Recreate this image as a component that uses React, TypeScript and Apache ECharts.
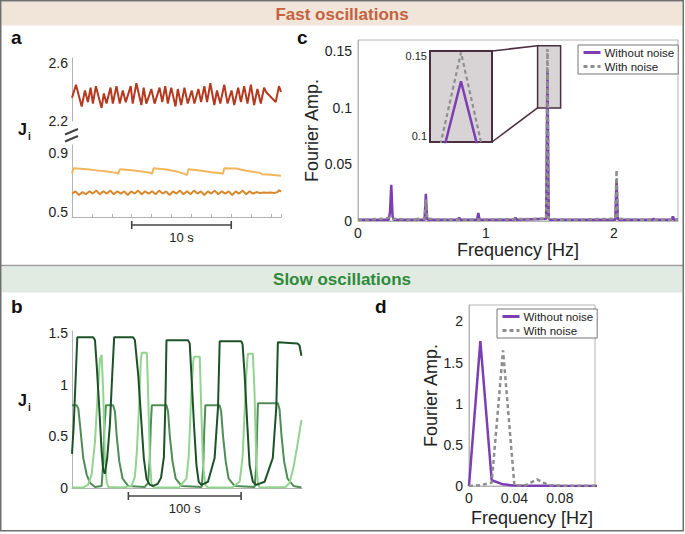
import React, { useEffect, useRef } from "react";
import * as echarts from "echarts";

const FONT = "'Liberation Sans', Arial, Helvetica, sans-serif";

// ---------- Panel a : fast oscillations, J_i traces (time in s) ----------
const aUpperTicks = [2.2, 2.6];
const aLowerTicks = [0.5, 0.9];
const aScaleBar = [6, 16]; // 10 s
const redTrace = [
  [0, 2.36], [0.4, 2.45], [0.97, 2.3], [1.3, 2.41], [1.6, 2.33], [1.87, 2.43], [2.1, 2.32], [2.4, 2.44],
  [2.97, 2.29], [3.2, 2.39], [3.47, 2.32], [3.87, 2.43], [4.1, 2.32], [4.47, 2.44], [4.8, 2.32], [5.1, 2.41],
  [5.4, 2.33], [5.9, 2.44], [6.1, 2.32], [6.47, 2.46], [6.97, 2.31], [7.2, 2.43], [7.47, 2.32], [7.97, 2.42],
  [8.3, 2.32], [8.8, 2.43], [9.07, 2.33], [9.37, 2.44], [9.63, 2.32], [9.97, 2.43], [10.4, 2.3], [10.63, 2.42],
  [10.97, 2.31], [11.3, 2.43], [11.63, 2.32], [12.03, 2.41], [12.3, 2.32], [12.7, 2.42], [12.97, 2.33], [13.3, 2.44],
  [13.57, 2.33], [13.9, 2.46], [14.3, 2.31], [14.57, 2.41], [14.9, 2.32], [15.3, 2.45], [15.63, 2.32], [16.03, 2.41],
  [16.3, 2.31], [16.7, 2.43], [16.97, 2.33], [17.3, 2.44], [17.63, 2.32], [17.97, 2.45], [18.3, 2.31], [18.63, 2.42],
  [18.97, 2.32], [19.3, 2.43], [19.5, 2.4], [20.47, 2.33], [20.8, 2.44], [21.0, 2.4],
];
const yellowTrace = [
  [0, 0.76], [0.15, 0.797], [1.5, 0.79], [2.5, 0.782], [3.5, 0.775], [4.5, 0.765], [4.65, 0.758], [4.8, 0.79],
  [6, 0.783], [7, 0.775], [7.9, 0.765], [8.05, 0.758], [8.2, 0.797], [9.5, 0.788], [10.5, 0.775], [11.3, 0.758],
  [11.55, 0.75], [11.7, 0.79], [13, 0.78], [14, 0.77], [15, 0.762], [15.15, 0.758], [15.3, 0.797], [16.5, 0.795],
  [17.5, 0.78], [18.9, 0.765], [19.1, 0.756], [20, 0.752], [21, 0.746],
];
const orangeTrace = [
  [0, 0.625], [0.35, 0.64], [0.7, 0.615], [1.05, 0.635], [1.4, 0.62], [1.75, 0.64], [2.1, 0.625], [2.45, 0.645],
  [2.8, 0.62], [3.15, 0.64], [3.5, 0.625], [3.85, 0.645], [4.2, 0.62], [4.55, 0.64], [4.9, 0.625], [5.25, 0.64],
  [5.6, 0.615], [5.95, 0.64], [6.3, 0.625], [6.65, 0.645], [7.0, 0.62], [7.35, 0.64], [7.7, 0.625], [8.05, 0.64],
  [8.4, 0.62], [8.75, 0.645], [9.1, 0.625], [9.45, 0.64], [9.8, 0.615], [10.15, 0.64], [10.5, 0.625], [10.85, 0.645],
  [11.2, 0.62], [11.55, 0.64], [11.9, 0.62], [12.25, 0.645], [12.6, 0.625], [12.95, 0.64], [13.3, 0.615], [13.65, 0.64],
  [14.0, 0.625], [14.35, 0.645], [14.7, 0.62], [15.05, 0.64], [15.4, 0.625], [15.75, 0.64], [16.1, 0.615], [16.45, 0.64],
  [16.8, 0.625], [17.15, 0.645], [17.5, 0.62], [17.85, 0.64], [18.2, 0.625], [18.55, 0.635], [18.9, 0.628], [19.25, 0.632],
  [19.6, 0.63], [19.95, 0.632], [20.3, 0.628], [20.65, 0.635], [20.8, 0.648], [21.0, 0.638],
];

// ---------- Panel c : Fourier spectrum of fast oscillations ----------
const cFreqTicks = [0, 1, 2];
const cAmpTicks = [0, 0.05, 0.1, 0.15];
const cInsetTicks = [0.1, 0.15];
const cZoomBox = [[1.403, 0.1], [1.583, 0.155]];
const cWithoutNoise = [
  [0, 0.001], [0.1, 0.001], [0.24, 0.001], [0.25, 0.008], [0.26, 0.032], [0.27, 0.004], [0.28, 0.001],
  [0.52, 0.001], [0.53, 0.024], [0.54, 0.002], [0.55, 0.001], [0.78, 0.001], [0.79, 0.003], [0.8, 0.001],
  [0.93, 0.001], [0.94, 0.007], [0.95, 0.001], [1.22, 0.001], [1.23, 0.003], [1.24, 0.001], [1.47, 0.002],
  [1.48, 0.134], [1.49, 0.002], [1.5, 0.001], [2.01, 0.001], [2.02, 0.036], [2.03, 0.002], [2.04, 0.001],
  [2.3, 0.001], [2.31, 0.002], [2.32, 0.001], [2.45, 0.001], [2.46, 0.004], [2.47, 0.001], [2.5, 0.001],
];
const cWithNoise = [
  [0, 0.001], [0.2, 0.002], [0.25, 0.003], [0.26, 0.002], [0.45, 0.001], [0.46, 0.004], [0.47, 0.001],
  [0.52, 0.002], [0.53, 0.019], [0.54, 0.002], [0.7, 0.001], [0.71, 0.002], [0.72, 0.001], [1.47, 0.002],
  [1.48, 0.152], [1.49, 0.002], [1.6, 0.001], [2.01, 0.002], [2.02, 0.045], [2.03, 0.002], [2.2, 0.001], [2.5, 0.001],
];

// ---------- Panel b : slow oscillations, J_i traces (time in s) ----------
const bTicks = [0, 0.5, 1, 1.5];
const bScaleBar = [50, 150]; // 100 s
const darkGreen = [
  [0, 0.33], [1.5, 0.6], [3, 1.0], [4.7, 1.46], [18.8, 1.46], [20.4, 1.43], [21.9, 1.19], [24.2, 0.77],
  [26.3, 0.35], [27.7, 0.17], [29.2, 0.14], [31.2, 0.29], [33.6, 0.61], [35.7, 1.1], [37.4, 1.46],
  [54.2, 1.46], [55.8, 1.43], [58.7, 1.1], [61.7, 0.61], [63.7, 0.29], [66.1, 0.09], [69.0, 0.03],
  [72, 0.02], [76, 0.04], [79, 0.1], [81.5, 0.3], [82.8, 0.8], [83.8, 1.43], [102.9, 1.43], [104.4, 1.4],
  [105.9, 1.1], [108.2, 0.61], [110.4, 0.22], [112.4, 0.06], [114.8, 0.03], [120.6, 0.06], [126.5, 0.29],
  [129.5, 0.78], [131.0, 1.42], [150.2, 1.42], [151.3, 1.39], [153.1, 1.1], [155.5, 0.61], [157.5, 0.22],
  [160.4, 0.06], [163.5, 0.03], [170.8, 0.06], [178.1, 0.29], [181.2, 0.78], [182.6, 1.41], [200, 1.4],
  [201.8, 1.38], [203.5, 1.28],
];
const midGreen = [
  [0, 0.8], [4.2, 0.8], [5.6, 0.77], [7.1, 0.61], [10, 0.29], [13, 0.13], [15.9, 0.05], [20.4, 0.01],
  [26.3, 0.02], [27.7, 0.25], [28.8, 0.6], [30.1, 0.8], [36.5, 0.8], [38.1, 0.74], [39.6, 0.51], [41.9, 0.26],
  [44.9, 0.09], [49.8, 0.02], [64.6, 0.01], [67.5, 0.05], [69.0, 0.29], [69.9, 0.61], [70.8, 0.8], [83.8, 0.8],
  [85.2, 0.74], [86.7, 0.51], [89.1, 0.26], [92, 0.09], [97.1, 0.02], [115, 0.01], [116.4, 0.2], [117.3, 0.55],
  [118.3, 0.8], [131, 0.8], [132.3, 0.74], [133.9, 0.51], [136.3, 0.26], [138.9, 0.09], [144.2, 0.02],
  [162, 0.01], [163.3, 0.2], [164.2, 0.55], [164.9, 0.82], [182.6, 0.82], [184.1, 0.76], [185.8, 0.51],
  [188.1, 0.26], [191.2, 0.09], [196.5, 0.02], [203.5, 0.005],
];
const lightGreen = [
  [0, 0.005], [10, 0.005], [14.2, 0.03], [17.4, 0.13], [20.4, 0.45], [23, 0.95], [24.8, 1.25], [26.3, 1.29],
  [27.7, 0.93], [29.2, 0.29], [30.7, 0.06], [32.1, 0.01], [45, 0.005], [52.8, 0.02], [55.8, 0.11], [57.5, 0.35],
  [59.3, 0.75], [61.1, 1.25], [62, 1.31], [66.4, 1.31], [67.5, 0.93], [69, 0.29], [70.5, 0.04], [72.6, 0.005],
  [95, 0.005], [101.5, 0.09], [103.5, 0.3], [105.9, 0.93], [107.5, 1.22], [108.2, 1.27], [113.3, 1.27],
  [114.2, 0.93], [116.2, 0.22], [118.3, 0.03], [120.4, 0.005], [142, 0.005], [148.7, 0.06], [151.3, 0.3],
  [154.6, 1.1], [156, 1.3], [160.4, 1.3], [161.9, 0.93], [163.5, 0.22], [165, 0.04], [166.4, 0.005],
  [189.4, 0.01], [193, 0.05], [196.5, 0.2], [200, 0.42], [203.5, 0.66],
];

// ---------- Panel d : Fourier spectrum of slow oscillations ----------
const dFreqTicks = [0, 0.04, 0.08];
const dAmpTicks = [0, 0.5, 1, 1.5, 2];
const dWithoutNoise = [
  [0, 0], [0.01, 1.76], [0.02, 0.07], [0.03, 0.02], [0.04, 0.005], [0.05, 0.003], [0.06, 0.002],
  [0.07, 0.002], [0.08, 0.001], [0.09, 0.001], [0.1, 0.001], [0.11, 0.001], [0.12, 0.001],
];
const dWithNoise = [
  [0, 0], [0.01, 0.01], [0.02, 0.04], [0.03, 1.65], [0.04, 0.01], [0.05, 0.01], [0.06, 0.08],
  [0.07, 0.01], [0.08, 0.005], [0.09, 0.003], [0.1, 0.002], [0.11, 0.002], [0.12, 0.002],
];

const PURPLE = "#7b3fb3";
const GRAY = "#8e8e8e";
const AXIS = "#b4b4b4";
const TXT = "#222";

const axLine = { show: true, lineStyle: { color: AXIS, width: 1 } };
const noSplit = { show: false };
const lbl = (values: number[], size = 14, margin = 5) => ({
  customValues: values,
  fontSize: size,
  color: TXT,
  fontFamily: FONT,
  margin,
});
const nameStyle = { fontSize: 18, color: TXT, fontFamily: FONT };

const lineS = (name: string, xi: number, data: number[][], color: string, width: number, dashed = false, extra: any = {}) => ({
  type: "line",
  name,
  xAxisIndex: xi,
  yAxisIndex: xi,
  data,
  symbol: "none",
  showSymbol: false,
  color,
  lineStyle: { color, width, type: dashed ? [4, 3] : "solid" },
  ...extra,
});

export default function App() {
  const ref = useRef<HTMLDivElement>(null);
  useEffect(() => {
    if (!ref.current) return;
    const chart = echarts.init(ref.current, null, { renderer: "svg" });
    const legendCommon = {
      data: ["Without noise", "With noise"],
      orient: "vertical",
      itemWidth: 17,
      itemHeight: 8,
      itemGap: 1,
      padding: [1, 4, 1, 4],
      borderColor: "#777",
      borderWidth: 1,
      backgroundColor: "#fff",
      selectedMode: false,
      itemStyle: { opacity: 0, borderWidth: 0 },
      lineStyle: { width: 3 },
      textStyle: { fontSize: 11.5, color: TXT, fontFamily: FONT, lineHeight: 13, padding: [0, 0, 0, -1] },
    };
    const option: any = {
      animation: false,
      grid: [
        { left: 72, top: 58, width: 209, height: 63 },
        { left: 72, top: 145, width: 209, height: 72 },
        { left: 358, top: 40, width: 320, height: 181, show: true, borderColor: AXIS, borderWidth: 1 },
        { left: 430, top: 51, width: 62, height: 91, show: true, backgroundColor: "#d8d4d6", borderColor: "#4b2e40", borderWidth: 2 },
        { left: 72, top: 331, width: 230, height: 157 },
        { left: 469, top: 305, width: 126, height: 181, show: true, borderColor: AXIS, borderWidth: 1 },
      ],
      xAxis: [
        { gridIndex: 0, type: "value", min: 0, max: 21, show: false },
        {
          gridIndex: 1, type: "value", min: 0, max: 21, interval: 2, axisLine: axLine,
          axisTick: { show: true, inside: true, length: 3, lineStyle: { color: AXIS } },
          axisLabel: { show: false }, splitLine: noSplit,
        },
        {
          gridIndex: 2, type: "value", min: 0, max: 2.5, axisLine: axLine, axisTick: { show: false },
          axisLabel: lbl(cFreqTicks, 14, 5), splitLine: noSplit,
          name: "Frequency [Hz]", nameLocation: "middle", nameGap: 17, nameTextStyle: nameStyle,
        },
        { gridIndex: 3, type: "value", min: 1.4742, max: 1.4858, show: false },
        {
          gridIndex: 4, type: "value", min: 0, max: 204, axisLine: axLine, axisTick: { show: false },
          axisLabel: { show: false }, splitLine: noSplit,
        },
        {
          gridIndex: 5, type: "value", min: 0, max: 0.111, axisLine: axLine, axisTick: { show: false },
          axisLabel: lbl(dFreqTicks, 14, 5), splitLine: noSplit,
          name: "Frequency [Hz]", nameLocation: "middle", nameGap: 23, nameTextStyle: nameStyle,
        },
      ],
      yAxis: [
        { gridIndex: 0, type: "value", min: 2.2, max: 2.634, axisLine: axLine, axisTick: { show: false }, axisLabel: lbl(aUpperTicks, 14, 4), splitLine: noSplit },
        { gridIndex: 1, type: "value", min: 0.466, max: 0.954, axisLine: axLine, axisTick: { show: false }, axisLabel: lbl(aLowerTicks, 14, 4), splitLine: noSplit },
        {
          gridIndex: 2, type: "value", min: 0, max: 0.16, axisLine: axLine, axisTick: { show: false },
          axisLabel: lbl(cAmpTicks, 14, 6), splitLine: noSplit,
          name: "Fourier Amp.", nameLocation: "middle", nameGap: 36, nameTextStyle: nameStyle,
        },
        { gridIndex: 3, type: "value", min: 0.096, max: 0.1529, axisLine: { show: false }, axisTick: { show: false }, axisLabel: lbl(cInsetTicks, 11, 3), splitLine: noSplit },
        { gridIndex: 4, type: "value", min: 0, max: 1.52, axisLine: axLine, axisTick: { show: false }, axisLabel: lbl(bTicks, 14, 4), splitLine: noSplit },
        {
          gridIndex: 5, type: "value", min: 0, max: 2.2, axisLine: axLine, axisTick: { show: false },
          axisLabel: lbl(dAmpTicks, 14, 6), splitLine: noSplit,
          name: "Fourier Amp.", nameLocation: "middle", nameGap: 27, nameTextStyle: nameStyle,
        },
      ],
      legend: [
        { ...legendCommon, left: 578, top: 45 },
        { ...legendCommon, left: 497, top: 309 },
      ],
      series: [
        lineS("J1 fast", 0, redTrace, "#b5391f", 2),
        lineS("J2 fast", 1, yellowTrace, "#f1b65c", 2),
        lineS("J3 fast", 1, orangeTrace, "#d8892c", 2),
        lineS("Without noise", 2, cWithoutNoise, PURPLE, 2.5, false, {
          markArea: {
            silent: true,
            itemStyle: { color: "#d8d4d6", borderColor: "#4b2e40", borderWidth: 1.5 },
            data: [[{ coord: cZoomBox[0] }, { coord: cZoomBox[1] }]],
          },
        }),
        lineS("With noise", 2, cWithNoise, GRAY, 2.5, true),
        lineS("Without noise", 3, cWithoutNoise, PURPLE, 2.5),
        lineS("With noise", 3, cWithNoise, GRAY, 2.2, true),
        lineS("J2 slow", 4, midGreen, "#4f8d57", 2),
        lineS("J3 slow", 4, lightGreen, "#92d48f", 2),
        lineS("J1 slow", 4, darkGreen, "#1d5128", 2),
        lineS("Without noise", 5, dWithoutNoise, PURPLE, 2.5),
        lineS("With noise", 5, dWithNoise, GRAY, 2.5, true),
      ],
    };
    chart.setOption(option);

    const px = (g: number, p: number[]) => chart.convertToPixel({ gridIndex: g }, p) as number[];
    const a1 = px(1, [aScaleBar[0], 0.5]);
    const a2 = px(1, [aScaleBar[1], 0.5]);
    const b1 = px(4, [bScaleBar[0], 0]);
    const b2 = px(4, [bScaleBar[1], 0]);
    const zb1 = px(2, cZoomBox[0]);
    const zb2 = px(2, cZoomBox[1]);
    const barStyle = { stroke: "#444", lineWidth: 1.6 };
    const scaleBar = (x1: number, x2: number, y: number, label: string) => [
      { type: "line", shape: { x1, y1: y, x2, y2: y }, style: barStyle },
      { type: "line", shape: { x1, y1: y - 4, x2: x1, y2: y + 4 }, style: barStyle },
      { type: "line", shape: { x1: x2, y1: y - 4, x2, y2: y + 4 }, style: barStyle },
      {
        type: "text", x: (x1 + x2) / 2, y: y + 12,
        style: { text: label, fontSize: 13, fontFamily: FONT, fill: TXT, align: "center", verticalAlign: "middle" },
      },
    ];
    const letter = (t: string, x: number, y: number) => ({
      type: "text", x, y,
      style: { text: t, fontSize: 19, fontWeight: "bold", fontFamily: FONT, fill: "#111", verticalAlign: "middle" },
    });
    const jLabel = (x: number, y: number) => [
      { type: "text", x, y, style: { text: "J", fontSize: 16, fontWeight: "bold", fontFamily: FONT, fill: "#111", verticalAlign: "middle" } },
      { type: "text", x: x + 10, y: y + 7, style: { text: "i", fontSize: 10, fontWeight: "bold", fontFamily: FONT, fill: "#111", verticalAlign: "middle" } },
    ];
    const inset = { l: 430, t: 51, r: 492, b: 142 };
    chart.setOption({
      graphic: [
        { type: "rect", shape: { x: 1.5, y: 1.5, width: 681, height: 24 }, style: { fill: "#f1e5d9" }, z: -1 },
        {
          type: "text", x: 342, y: 14,
          style: { text: "Fast oscillations", fontSize: 17, fontWeight: "bold", fontFamily: FONT, fill: "#c4623f", align: "center", verticalAlign: "middle" },
        },
        { type: "line", shape: { x1: 0, y1: 265.5, x2: 684, y2: 265.5 }, style: { stroke: "#9a9a9a", lineWidth: 1.5 } },
        { type: "rect", shape: { x: 1.5, y: 266.5, width: 681, height: 26 }, style: { fill: "#e2ebe1" }, z: -1 },
        {
          type: "text", x: 342, y: 279.5,
          style: { text: "Slow oscillations", fontSize: 17, fontWeight: "bold", fontFamily: FONT, fill: "#2e8a3b", align: "center", verticalAlign: "middle" },
        },
        { type: "rect", shape: { x: 0.75, y: 0.75, width: 682.5, height: 530 }, style: { fill: "none", stroke: "#6f6f6f", lineWidth: 1.5 } },
        letter("a", 11, 37),
        letter("c", 297, 37),
        letter("b", 11, 306),
        letter("d", 375, 306),
        ...jLabel(18, 129),
        ...jLabel(18, 400),
        { type: "line", shape: { x1: 65, y1: 134.5, x2: 78, y2: 129 }, style: { stroke: "#444", lineWidth: 2 } },
        { type: "line", shape: { x1: 65, y1: 141.5, x2: 78, y2: 136 }, style: { stroke: "#444", lineWidth: 2 } },
        ...scaleBar(a1[0], a2[0], 225, "10 s"),
        ...scaleBar(b1[0], b2[0], 496, "100 s"),
        { type: "line", shape: { x1: inset.r, y1: inset.t, x2: zb1[0], y2: zb2[1] }, style: { stroke: "#4b2e40", lineWidth: 1.5 } },
        { type: "line", shape: { x1: inset.r, y1: inset.b, x2: zb1[0], y2: zb1[1] }, style: { stroke: "#4b2e40", lineWidth: 1.5 } },
      ],
    });
    return () => chart.dispose();
  }, []);
  return (
    <div
      ref={ref}
      style={{ position: "absolute", left: 0, top: 0, width: 685, height: 534, background: "#fff" }}
    />
  );
}
